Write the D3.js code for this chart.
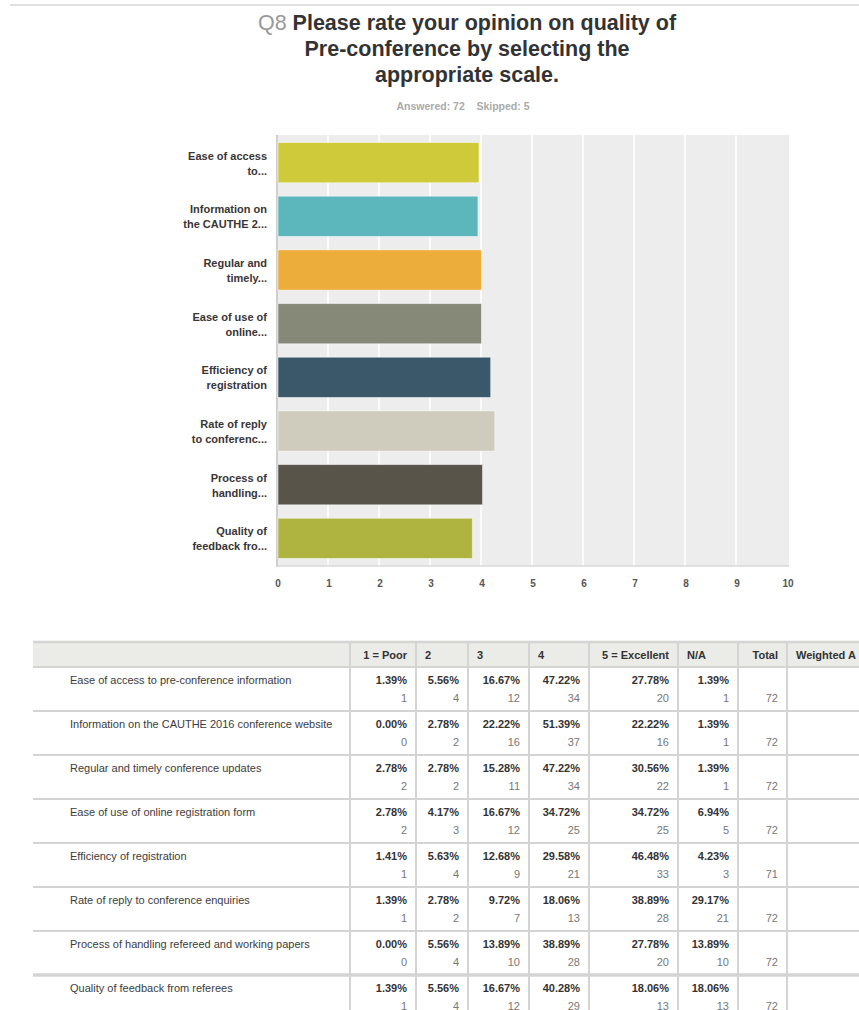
<!DOCTYPE html>
<html>
<head>
<meta charset="utf-8">
<script src="https://cdn.jsdelivr.net/npm/d3@7"></script>
<style>
  body { margin: 0; background: #fff; }
  svg { display: block; font-family: "Liberation Sans", Arial, sans-serif; }
</style>
</head>
<body>
<svg id="chart" width="859" height="1010"></svg>
<script>
// bar chart data
var barLabels = [
  ["Ease of access", "to..."],
  ["Information on", "the CAUTHE 2..."],
  ["Regular and", "timely..."],
  ["Ease of use of", "online..."],
  ["Efficiency of", "registration"],
  ["Rate of reply", "to conferenc..."],
  ["Process of", "handling..."],
  ["Quality of", "feedback fro..."]
];
var averages = [3.96, 3.94, 4.01, 4.01, 4.19, 4.27, 4.03, 3.83];
var barColors = ["#cfca3a", "#5bb7bc", "#ecad3b", "#878978", "#3a5869", "#cfccbe", "#59544a", "#afb340"];
var xTicks = [0, 1, 2, 3, 4, 5, 6, 7, 8, 9, 10];

// table data
var rowLabels = [
  "Ease of access to pre-conference information",
  "Information on the CAUTHE 2016 conference website",
  "Regular and timely conference updates",
  "Ease of use of online registration form",
  "Efficiency of registration",
  "Rate of reply to conference enquiries",
  "Process of handling refereed and working papers",
  "Quality of feedback from referees"
];
var columns = ["1 = Poor", "2", "3", "4", "5 = Excellent", "N/A", "Total", "Weighted A"];
var percents = [
  ["1.39%", "5.56%", "16.67%", "47.22%", "27.78%", "1.39%"],
  ["0.00%", "2.78%", "22.22%", "51.39%", "22.22%", "1.39%"],
  ["2.78%", "2.78%", "15.28%", "47.22%", "30.56%", "1.39%"],
  ["2.78%", "4.17%", "16.67%", "34.72%", "34.72%", "6.94%"],
  ["1.41%", "5.63%", "12.68%", "29.58%", "46.48%", "4.23%"],
  ["1.39%", "2.78%", "9.72%", "18.06%", "38.89%", "29.17%"],
  ["0.00%", "5.56%", "13.89%", "38.89%", "27.78%", "13.89%"],
  ["1.39%", "5.56%", "16.67%", "40.28%", "18.06%", "18.06%"]
];
var counts = [
  [1, 4, 12, 34, 20, 1],
  [0, 2, 16, 37, 16, 1],
  [2, 2, 11, 34, 22, 1],
  [2, 3, 12, 25, 25, 5],
  [1, 4, 9, 21, 33, 3],
  [1, 2, 7, 13, 28, 21],
  [0, 4, 10, 28, 20, 10],
  [1, 4, 12, 29, 13, 13]
];
var totals = [72, 72, 72, 72, 71, 72, 72, 72];

var svg = d3.select("#chart");

// top rule
svg.append("line")
  .attr("x1", 10).attr("x2", 859)
  .attr("y1", 5).attr("y2", 5)
  .attr("stroke", "#d6d6d6").attr("stroke-width", 1.5);

// title
var title = svg.append("text")
  .attr("x", 467)
  .attr("font-size", "21.5px")
  .attr("font-weight", "bold")
  .attr("fill", "#333")
  .style("text-anchor", "middle");
var l1 = title.append("tspan").attr("x", 467).attr("y", 30);
l1.append("tspan").attr("fill", "#999").attr("font-weight", "normal").text("Q8 ");
l1.append("tspan").text("Please rate your opinion on quality of");
title.append("tspan").attr("x", 467).attr("y", 56).text("Pre-conference by selecting the");
title.append("tspan").attr("x", 467).attr("y", 82).text("appropriate scale.");

svg.append("text")
  .attr("x", 463).attr("y", 110)
  .attr("font-size", "10.5px")
  .attr("font-weight", "bold")
  .attr("fill", "#aaa")
  .style("text-anchor", "middle")
  .attr("xml:space", "preserve")
  .text("Answered: 72    Skipped: 5");

// bar chart
var x = d3.scaleLinear().domain([0, 10]).range([277, 787]);
var y = d3.scaleBand()
  .domain(d3.range(averages.length))
  .range([135, 566])
  .paddingInner(0.25)
  .paddingOuter(0.14);

svg.append("rect")
  .attr("x", x(0)).attr("y", 135)
  .attr("width", x(10) - x(0) + 2).attr("height", 431)
  .attr("fill", "#ededed");

svg.selectAll(".grid")
  .data(xTicks.slice(1, -1))
  .enter().append("line")
    .classed("grid", true)
    .attr("x1", d => x(d)).attr("x2", d => x(d))
    .attr("y1", 135).attr("y2", 566)
    .attr("stroke", "#fff").attr("stroke-width", 1.5);

svg.append("line")
  .attr("x1", x(0)).attr("x2", x(10) + 2)
  .attr("y1", 566).attr("y2", 566)
  .attr("stroke", "#d8d8d8").attr("stroke-width", 1.5);
svg.append("line")
  .attr("x1", x(0)).attr("x2", x(0))
  .attr("y1", 135).attr("y2", 567)
  .attr("stroke", "#cfcfcf").attr("stroke-width", 2);

svg.selectAll(".bar")
  .data(averages)
  .enter().append("rect")
    .classed("bar", true)
    .attr("x", x(0) + 1)
    .attr("y", (d, i) => y(i))
    .attr("width", d => x(d) - x(0) - 1)
    .attr("height", y.bandwidth())
    .attr("fill", (d, i) => barColors[i])
    .attr("stroke", "rgba(255,255,255,0.5)")
    .attr("stroke-width", 1);

var ylab = svg.selectAll(".ylab")
  .data(barLabels)
  .enter().append("text")
    .classed("ylab", true)
    .attr("font-size", "11px")
    .attr("font-weight", "bold")
    .attr("fill", "#3a3535")
    .style("text-anchor", "end");
ylab.append("tspan")
  .attr("x", 267)
  .attr("y", (d, i) => y(i) + y.bandwidth() / 2 - 3)
  .text(d => d[0]);
ylab.append("tspan")
  .attr("x", 267)
  .attr("y", (d, i) => y(i) + y.bandwidth() / 2 + 12)
  .text(d => d[1]);

svg.selectAll(".xlab")
  .data(xTicks)
  .enter().append("text")
    .classed("xlab", true)
    .attr("x", d => x(d) + 1)
    .attr("y", 587)
    .attr("font-size", "10px")
    .attr("font-weight", "bold")
    .attr("fill", "#555")
    .style("text-anchor", "middle")
    .text(d => d);

// table
var colEdges = [350, 416, 468, 529, 589, 678, 738, 787, 900];
var rightAlign = [true, false, false, false, true, false, true, false];
var tTop = 642, headH = 25, rowH = 44;
var tLeft = 33;

var table = svg.append("g");
table.append("rect")
  .attr("x", tLeft).attr("y", tTop)
  .attr("width", 900 - tLeft).attr("height", headH)
  .attr("fill", "#ebebe7");

// column borders
table.selectAll(".vline")
  .data(colEdges.slice(0, -1))
  .enter().append("line")
    .attr("x1", d => d).attr("x2", d => d)
    .attr("y1", tTop).attr("y2", 1010)
    .attr("stroke", "#d4d4d4").attr("stroke-width", 2);

// row borders
var rowLines = [tTop + headH].concat(rowLabels.map((d, i) => tTop + headH + rowH * (i + 1)));
table.selectAll(".hline")
  .data(rowLines.slice(0, -1))
  .enter().append("line")
    .attr("x1", tLeft).attr("x2", 900)
    .attr("y1", d => d).attr("y2", d => d)
    .attr("stroke", "#d4d4d4")
    .attr("stroke-width", (d, i) => i === 7 ? 3.5 : 2);
table.append("line")
  .attr("x1", tLeft).attr("x2", 900)
  .attr("y1", tTop).attr("y2", tTop)
  .attr("stroke", "#d4d4d4").attr("stroke-width", 2.5);

// header
table.selectAll(".head")
  .data(columns)
  .enter().append("text")
    .attr("x", (d, i) => rightAlign[i] ? colEdges[i + 1] - 9 : colEdges[i] + 9)
    .attr("y", tTop + 17)
    .attr("font-size", "11px")
    .attr("font-weight", "bold")
    .attr("fill", "#333")
    .style("text-anchor", (d, i) => rightAlign[i] ? "end" : "start")
    .text(d => d);

var rows = table.selectAll(".row")
  .data(rowLabels)
  .enter().append("g")
    .attr("transform", (d, i) => "translate(0," + (tTop + headH + rowH * i) + ")");

rows.append("text")
  .attr("x", 70).attr("y", 17)
  .attr("font-size", "11px")
  .attr("fill", "#3c3c3c")
  .text(d => d);

rows.each(function(d, r) {
  var g = d3.select(this);
  g.selectAll(".pct")
    .data(percents[r])
    .enter().append("text")
      .attr("x", (v, c) => colEdges[c + 1] - 9)
      .attr("y", 17)
      .attr("font-size", "11px")
      .attr("font-weight", "bold")
      .attr("fill", "#333")
      .style("text-anchor", "end")
      .text(v => v);
  g.selectAll(".cnt")
    .data(counts[r])
    .enter().append("text")
      .attr("x", (v, c) => colEdges[c + 1] - 9)
      .attr("y", 35)
      .attr("font-size", "11px")
      .attr("fill", "#777")
      .style("text-anchor", "end")
      .text(v => v);
  g.append("text")
    .attr("x", colEdges[7] - 9)
    .attr("y", 35)
    .attr("font-size", "11px")
    .attr("fill", "#777")
    .style("text-anchor", "end")
    .text(totals[r]);
});
</script>
</body>
</html>
